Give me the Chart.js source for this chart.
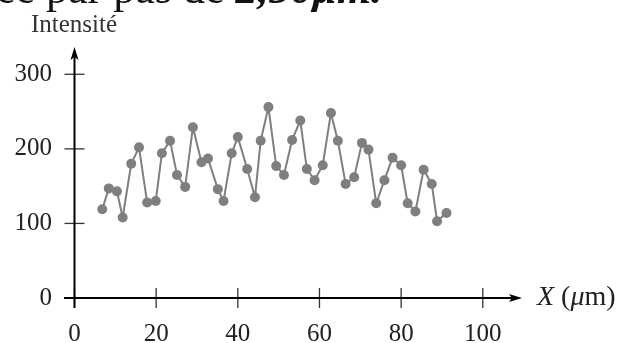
<!DOCTYPE html>
<html>
<head>
<meta charset="utf-8">
<script src="https://cdn.jsdelivr.net/npm/chart.js@4/dist/chart.umd.min.js"></script>
<style>
  html, body { margin: 0; padding: 0; background: #fff; }
  #wrap { position: relative; width: 618px; height: 343px; overflow: hidden; }
  canvas { position: absolute; left: 0; top: 0; }
  .txt { position: absolute; font-family: "Liberation Serif", "DejaVu Serif", serif; white-space: nowrap; }
</style>
</head>
<body>
<div id="wrap">
  <canvas id="c" width="618" height="343"></canvas>
  <div class="txt" style="left:-4px; top:-33px; font-size:44px; line-height:44px; color:#111;">ée par pas de <b><i>2,50μm.</i></b></div>
  <div class="txt" id="ylab" style="left:31px; top:10px; font-size:25px; line-height:28px; color:#333;">Intensité</div>
  <div class="txt" id="xlab" style="left:537px; top:280px; font-size:28px; line-height:32px; color:#222;"><i>X</i> (<i>μ</i>m)</div>
</div>
<script>
// ---- data ----
const positions = [6.8, 8.4, 10.4, 11.8, 13.9, 15.8, 17.8, 19.9, 21.4, 23.4, 25.1, 27.1, 29.0, 31.1, 32.7, 35.1, 36.5, 38.5, 40.0, 42.3, 44.2, 45.6, 47.5, 49.4, 51.3, 53.3, 55.3, 56.9, 58.8, 60.8, 62.8, 64.5, 66.4, 68.5, 70.4, 72.0, 73.9, 75.9, 77.9, 80.0, 81.6, 83.5, 85.5, 87.5, 88.8, 91.1];
const intensity = [119, 147, 143, 108, 180, 202, 128, 130, 194, 211, 165, 149, 229, 182, 187, 146, 130, 194, 216, 173, 135, 211, 256, 177, 165, 212, 238, 173, 158, 178, 248, 211, 153, 162, 208, 199, 127, 158, 188, 178, 127, 116, 172, 153, 103, 114];
const xTicks = [0, 20, 40, 60, 80, 100];
const yTicks = [0, 100, 200, 300];

const points = positions.map((x, i) => ({ x: x, y: intensity[i] }));

const axesPlugin = {
  id: 'arrowAxes',
  afterDatasetsDraw(chart) {
    const ctx = chart.ctx;
    const xs = chart.scales.x, ys = chart.scales.y;
    const a = chart.chartArea;
    const x0 = xs.getPixelForValue(0);
    const y0 = ys.getPixelForValue(0);
    ctx.save();
    // tick marks
    ctx.strokeStyle = '#333';
    ctx.lineWidth = 1.3;
    yTicks.forEach(v => {
      const p = ys.getPixelForValue(v);
      ctx.beginPath(); ctx.moveTo(x0 - 10, p); ctx.lineTo(x0 + 10, p); ctx.stroke();
    });
    xTicks.forEach(v => {
      const p = xs.getPixelForValue(v);
      ctx.beginPath(); ctx.moveTo(p, y0 - 10); ctx.lineTo(p, y0 + 10); ctx.stroke();
    });
    // axis lines
    ctx.strokeStyle = '#000';
    ctx.lineWidth = 2;
    ctx.beginPath(); ctx.moveTo(a.left, y0); ctx.lineTo(a.right - 6, y0); ctx.stroke();
    ctx.beginPath(); ctx.moveTo(x0, a.bottom); ctx.lineTo(x0, a.top + 6); ctx.stroke();
    // arrowheads
    ctx.fillStyle = '#000';
    ctx.beginPath();
    ctx.moveTo(a.right, y0);
    ctx.lineTo(a.right - 13, y0 - 4);
    ctx.lineTo(a.right - 10, y0);
    ctx.lineTo(a.right - 13, y0 + 4);
    ctx.closePath(); ctx.fill();
    ctx.beginPath();
    ctx.moveTo(x0, a.top);
    ctx.lineTo(x0 - 4, a.top + 13);
    ctx.lineTo(x0, a.top + 10);
    ctx.lineTo(x0 + 4, a.top + 13);
    ctx.closePath(); ctx.fill();
    ctx.restore();
  }
};

const tickFont = { family: '"Liberation Serif", "DejaVu Serif", serif', size: 25 };

new Chart(document.getElementById('c'), {
  type: 'scatter',
  data: {
    datasets: [{
      data: points,
      showLine: true,
      borderColor: '#7f7f7f',
      borderWidth: 2,
      backgroundColor: '#7f7f7f',
      pointBackgroundColor: '#7f7f7f',
      pointBorderWidth: 0,
      pointRadius: 5,
      tension: 0
    }]
  },
  options: {
    responsive: false,
    animation: false,
    events: [],
    layout: { padding: { top: 47, right: 96, bottom: 0, left: 0 } },
    plugins: { legend: { display: false }, tooltip: { enabled: false } },
    scales: {
      x: {
        type: 'linear',
        min: -2.57,
        max: 109.6,
        afterBuildTicks: s => { s.ticks = xTicks.map(v => ({ value: v })); },
        afterFit: s => { s.height = 35; },
        grid: { display: false, drawTicks: false },
        border: { display: false },
        ticks: { font: tickFont, color: '#222', padding: 11, maxRotation: 0, autoSkip: false }
      },
      y: {
        type: 'linear',
        min: -13.4,
        max: 336.6,
        afterBuildTicks: s => { s.ticks = yTicks.map(v => ({ value: v })); },
        afterFit: s => { s.width = 64; },
        grid: { display: false, drawTicks: false },
        border: { display: false },
        ticks: { font: tickFont, color: '#222', padding: 12, autoSkip: false }
      }
    }
  },
  plugins: [axesPlugin]
});
</script>
</body>
</html>
